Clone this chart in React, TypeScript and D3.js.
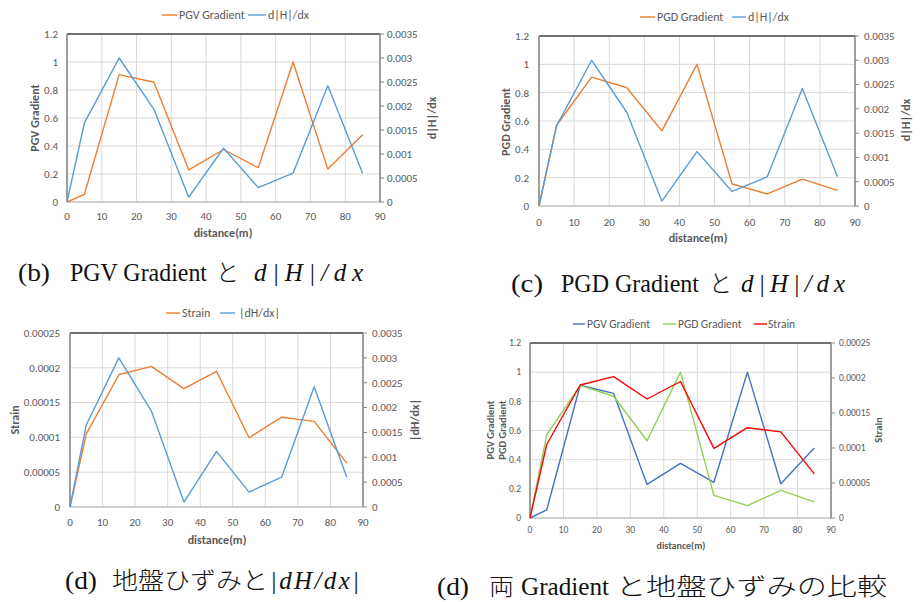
import React from 'react';
import * as d3 from 'd3';

const distance = [0, 5, 15, 25, 35, 45, 55, 65, 75, 85];
const pgvGradient = [0, 0.055, 0.91, 0.855, 0.23, 0.375, 0.245, 1.0, 0.235, 0.48];
const pgdGradient = [0, 0.57, 0.91, 0.835, 0.53, 1.0, 0.155, 0.085, 0.19, 0.11];
const dHdx = [0, 0.00165, 0.003, 0.00193, 0.0001, 0.00112, 0.0003, 0.0006, 0.00242, 0.0006];
const strain = [0, 0.000105, 0.00019, 0.000202, 0.00017, 0.000195, 0.0000995, 0.000129, 0.000123, 0.000063];

const xTicks = [0, 10, 20, 30, 40, 50, 60, 70, 80, 90];
const gradTicks = [0, 0.2, 0.4, 0.6, 0.8, 1, 1.2];
const gradLabels = ['0', '0.2', '0.4', '0.6', '0.8', '1', '1.2'];
const dHTicks = [0, 0.0005, 0.001, 0.0015, 0.002, 0.0025, 0.003, 0.0035];
const dHLabels = ['0', '0.0005', '0.001', '0.0015', '0.002', '0.0025', '0.003', '0.0035'];
const strainTicks = [0, 0.00005, 0.0001, 0.00015, 0.0002, 0.00025];
const strainLabels = ['0', '0.00005', '0.0001', '0.00015', '0.0002', '0.00025'];

const FONT = "Carlito, 'Liberation Sans', Arial, sans-serif";
const TXT = '#595959';
const ORANGE = '#ED7D31';
const BLUE = '#5B9BD5';
const BLUE2 = '#4472C4';
const GREEN = '#92D050';
const RED = '#FF0000';

type Series = { values: number[]; color: string; axis: 'left' | 'right' };
type LegendItem = { label: string; color: string; x0: number; x1: number; tx: number };

type PanelProps = {
  id: string;
  l: number; r: number; t: number; b: number;
  leftTicks: number[]; leftLabels: string[];
  rightTicks: number[]; rightLabels: string[];
  series: Series[];
  legend: LegendItem[]; legendY: number; legendFont: number; legendClipTop?: number;
  tickFont: number; leftTickX: number; rightTickX: number; xTickY: number;
  leftTitle: { text: string; x: number }[]; leftTitleY: number;
  rightTitle: string; rightTitleX: number; rightTitleY: number;
  xTitleX: number; xTitleY: number; titleFont: number; xTitleFont: number;
};

function Panel(p: PanelProps) {
  const x = d3.scaleLinear().domain([0, 90]).range([p.l, p.r]);
  const yl = d3.scaleLinear().domain([0, p.leftTicks[p.leftTicks.length - 1]]).range([p.b, p.t]);
  const yr = d3.scaleLinear().domain([0, p.rightTicks[p.rightTicks.length - 1]]).range([p.b, p.t]);
  const mk = (s: Series) =>
    d3.line<number>()
      .x((_, i) => x(distance[i]))
      .y((v) => (s.axis === 'left' ? yl(v) : yr(v)))(s.values) || '';
  return (
    <g fontFamily={FONT}>
      {p.legendClipTop !== undefined && (
        <clipPath id={`clip-${p.id}`}>
          <rect x={p.l - 100} y={p.legendClipTop} width={p.r - p.l + 200} height={100} />
        </clipPath>
      )}
      {xTicks.slice(1, -1).map((v) => (
        <line key={'gx' + v} x1={x(v)} x2={x(v)} y1={p.t} y2={p.b} stroke="#D9D9D9" strokeWidth={1} />
      ))}
      {p.leftTicks.slice(1, -1).map((v) => (
        <line key={'gy' + v} x1={p.l} x2={p.r} y1={yl(v)} y2={yl(v)} stroke="#D9D9D9" strokeWidth={1} />
      ))}
      <line x1={p.l} x2={p.r} y1={p.t} y2={p.t} stroke="#404040" strokeWidth={1.3} />
      <line x1={p.l} x2={p.r} y1={p.b} y2={p.b} stroke="#BFBFBF" strokeWidth={1.3} />
      <line x1={p.l} x2={p.l} y1={p.t} y2={p.b} stroke="#868686" strokeWidth={1.6} />
      <line x1={p.r} x2={p.r} y1={p.t} y2={p.b} stroke="#868686" strokeWidth={1.6} />
      {p.rightTicks.map((v) => (
        <line key={'rt' + v} x1={p.r} x2={p.r + 4} y1={yr(v)} y2={yr(v)} stroke="#868686" strokeWidth={1} />
      ))}
      {p.series.map((s, i) => (
        <path key={i} d={mk(s)} fill="none" stroke={s.color} strokeWidth={1.4} strokeLinejoin="round" />
      ))}
      {p.leftTicks.map((v, i) => (
        <text key={'ll' + v} x={p.leftTickX} y={yl(v)} dy="0.35em" textAnchor="end" fontSize={p.tickFont} fill={TXT}>
          {p.leftLabels[i]}
        </text>
      ))}
      {p.rightTicks.map((v, i) => (
        <text key={'rl' + v} x={p.rightTickX} y={yr(v)} dy="0.35em" textAnchor="start" fontSize={p.tickFont} fill={TXT}>
          {p.rightLabels[i]}
        </text>
      ))}
      {xTicks.map((v) => (
        <text key={'xl' + v} x={x(v)} y={p.xTickY} dy="0.35em" textAnchor="middle" fontSize={p.tickFont} fill={TXT}>
          {v}
        </text>
      ))}
      {p.leftTitle.map((tt, i) => (
        <text key={'lt' + i} transform={`translate(${tt.x},${p.leftTitleY}) rotate(-90)`} dy="0.35em" textAnchor="middle"
          fontSize={p.titleFont} fontWeight="bold" fill={TXT}>
          {tt.text}
        </text>
      ))}
      <text transform={`translate(${p.rightTitleX},${p.rightTitleY}) rotate(-90)`} dy="0.35em" textAnchor="middle"
        fontSize={p.titleFont} fontWeight="bold" fill={TXT}>
        {p.rightTitle}
      </text>
      <text x={p.xTitleX} y={p.xTitleY} dy="0.35em" textAnchor="middle" fontSize={p.xTitleFont} fontWeight="bold" fill={TXT}>
        distance(m)
      </text>
      <g clipPath={p.legendClipTop !== undefined ? `url(#clip-${p.id})` : undefined}>
        {p.legend.map((it) => (
          <g key={it.label}>
            <line x1={it.x0} x2={it.x1} y1={p.legendY} y2={p.legendY} stroke={it.color} strokeWidth={1.4} />
            <text x={it.tx} y={p.legendY} dy="0.35em" fontSize={p.legendFont} fill={TXT}>{it.label}</text>
          </g>
        ))}
      </g>
    </g>
  );
}

const SERIF = "'Liberation Serif', 'Times New Roman', serif";
const CJK = "'Noto Sans CJK JP', sans-serif";

type Seg = { text: string; x: number; w: number; italic?: boolean; cjk?: boolean };

function Caption({ y, segs }: { y: number; segs: Seg[] }) {
  return (
    <g fill="#111">
      {segs.map((s, i) => (
        <text key={i} x={s.x} y={y} fontFamily={s.cjk ? CJK : SERIF} fontWeight={s.cjk ? 300 : 400}
          fontStyle={s.italic ? 'italic' : 'normal'} fontSize={s.cjk ? 24 : 25}
          textLength={s.w} lengthAdjust={s.italic ? 'spacing' : 'spacingAndGlyphs'}>
          {s.text}
        </text>
      ))}
    </g>
  );
}

export default function App() {
  return (
    <svg width={922} height={602} style={{ position: 'absolute', left: 0, top: 0, background: '#fff' }}>
      <rect width={922} height={602} fill="#fff" />
      <Panel id="b" l={67} r={380} t={34} b={202}
        leftTicks={gradTicks} leftLabels={gradLabels} rightTicks={dHTicks} rightLabels={dHLabels}
        series={[{ values: pgvGradient, color: ORANGE, axis: 'left' }, { values: dHdx, color: BLUE, axis: 'right' }]}
        legend={[
          { label: 'PGV Gradient', color: ORANGE, x0: 162, x1: 177, tx: 179 },
          { label: 'd|H|/dx', color: BLUE, x0: 248, x1: 266, tx: 268 },
        ]}
        legendY={15} legendFont={12}
        tickFont={11} leftTickX={58} rightTickX={387} xTickY={216}
        leftTitle={[{ text: 'PGV Gradient', x: 35 }]} leftTitleY={118}
        rightTitle="d|H|/dx" rightTitleX={432} rightTitleY={118}
        xTitleX={223} xTitleY={233} titleFont={12} xTitleFont={12} />
      <Panel id="c" l={539} r={855} t={36} b={206}
        leftTicks={gradTicks} leftLabels={gradLabels} rightTicks={dHTicks} rightLabels={dHLabels}
        series={[{ values: pgdGradient, color: ORANGE, axis: 'left' }, { values: dHdx, color: BLUE, axis: 'right' }]}
        legend={[
          { label: 'PGD Gradient', color: ORANGE, x0: 640, x1: 655, tx: 657 },
          { label: 'd|H|/dx', color: BLUE, x0: 732, x1: 746, tx: 748 },
        ]}
        legendY={17} legendFont={12}
        tickFont={11} leftTickX={529} rightTickX={864} xTickY={222}
        leftTitle={[{ text: 'PGD Gradient', x: 506 }]} leftTitleY={122}
        rightTitle="d|H|/dx" rightTitleX={906} rightTitleY={120}
        xTitleX={698} xTitleY={238} titleFont={12} xTitleFont={12} />
      <Panel id="d" l={70} r={363} t={333} b={507}
        leftTicks={strainTicks} leftLabels={strainLabels} rightTicks={dHTicks} rightLabels={dHLabels}
        series={[{ values: strain, color: ORANGE, axis: 'left' }, { values: dHdx, color: BLUE, axis: 'right' }]}
        legend={[
          { label: 'Strain', color: ORANGE, x0: 166, x1: 180, tx: 182 },
          { label: '|dH/dx|', color: BLUE, x0: 220, x1: 235, tx: 239 },
        ]}
        legendY={313} legendFont={12} legendClipTop={307}
        tickFont={11} leftTickX={60} rightTickX={372} xTickY={522}
        leftTitle={[{ text: 'Strain', x: 15 }]} leftTitleY={420}
        rightTitle="|dH/dx|" rightTitleX={415} rightTitleY={420}
        xTitleX={217} xTitleY={540} titleFont={12} xTitleFont={12} />
      <Panel id="e" l={530} r={831} t={343} b={518}
        leftTicks={gradTicks} leftLabels={gradLabels} rightTicks={strainTicks} rightLabels={strainLabels}
        series={[
          { values: pgvGradient, color: BLUE2, axis: 'left' },
          { values: pgdGradient, color: GREEN, axis: 'left' },
          { values: strain, color: RED, axis: 'right' },
        ]}
        legend={[
          { label: 'PGV Gradient', color: BLUE2, x0: 573, x1: 585, tx: 587 },
          { label: 'PGD Gradient', color: GREEN, x0: 663, x1: 676, tx: 678 },
          { label: 'Strain', color: RED, x0: 754, x1: 767, tx: 768 },
        ]}
        legendY={324} legendFont={11.5}
        tickFont={9.5} leftTickX={521} rightTickX={839} xTickY={530}
        leftTitle={[{ text: 'PGV Gradient', x: 490 }, { text: 'PGD Gradient', x: 502 }]} leftTitleY={430}
        rightTitle="Strain" rightTitleX={878} rightTitleY={430}
        xTitleX={681} xTitleY={545} titleFont={10.5} xTitleFont={10} />
      <Caption y={281} segs={[
        { text: '(b)', x: 18, w: 32 },
        { text: 'PGV Gradient', x: 70, w: 137 },
        { text: 'と', x: 216, w: 23, cjk: true },
        { text: 'd|H|/dx', x: 254, w: 109, italic: true },
      ]} />
      <Caption y={292} segs={[
        { text: '(c)', x: 511, w: 32 },
        { text: 'PGD Gradient', x: 561, w: 138 },
        { text: 'と', x: 709, w: 23, cjk: true },
        { text: 'd|H|/dx', x: 741, w: 104, italic: true },
      ]} />
      <Caption y={589} segs={[
        { text: '(d)', x: 65, w: 32 },
        { text: '地盤ひずみと', x: 112, w: 156, cjk: true },
        { text: '|dH/dx|', x: 270, w: 89, italic: true },
      ]} />
      <Caption y={595} segs={[
        { text: '(d)', x: 437, w: 32 },
        { text: '両', x: 489, w: 25, cjk: true },
        { text: 'Gradient', x: 521, w: 88 },
        { text: 'と地盤ひずみの比較', x: 616, w: 271, cjk: true },
      ]} />
    </svg>
  );
}
